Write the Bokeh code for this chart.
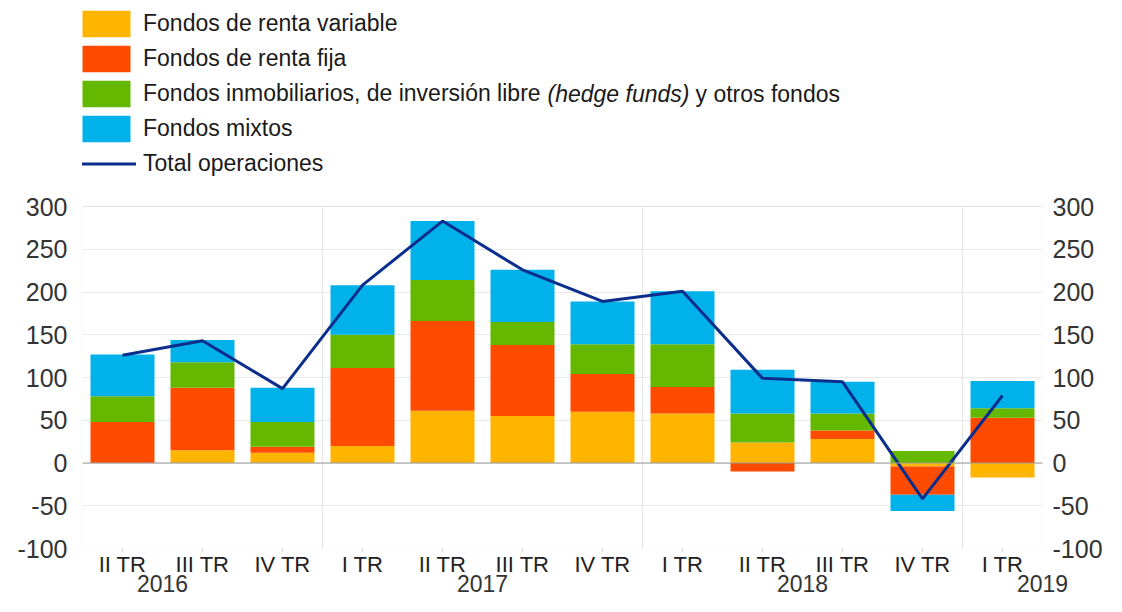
import numpy as np
from bokeh.plotting import figure
from bokeh.models import (ColumnDataSource, Range1d, LinearAxis, FixedTicker,
                          Legend, LegendItem, Label, Span, BoxAnnotation)
from bokeh.embed import file_html
from bokeh.resources import INLINE

# ---------------- data ----------------
quarters = ["II TR", "III TR", "IV TR", "I TR", "II TR", "III TR", "IV TR",
            "I TR", "II TR", "III TR", "IV TR", "I TR"]
years = ["2016", "2017", "2018", "2019"]
y_ticks = [-100, -50, 0, 50, 100, 150, 200, 250, 300]

renta_variable = [0, 15, 12, 20, 61, 55, 60, 58, 24, 28, -4, -17]
renta_fija = [48, 73, 7, 91, 105, 83, 44, 31, -10, 10, -33, 53]
otros_fondos = [30, 30, 29, 39, 48, 27, 35, 50, 34, 20, 14, 11]
fondos_mixtos = [49, 26, 40, 58, 69, 61, 50, 62, 51, 37, -19, 32]
total_operaciones = [126, 143, 87, 208, 283, 226, 189, 201, 99, 95, -42, 79]

series_names = ["Fondos de renta variable", "Fondos de renta fija",
                "Fondos inmobiliarios, de inversión libre", "Fondos mixtos"]
series_values = [renta_variable, renta_fija, otros_fondos, fondos_mixtos]
colors = ["#FFB400", "#FF4B00", "#65B800", "#00B1EA"]
line_color = "#0B2D8C"

FONT = "Liberation Sans"

n = len(quarters)
xc = np.arange(n) + 0.5
i_starts = [i for i, q in enumerate(quarters) if q == "I TR"]
boundaries = [float(i) for i in i_starts]
year_first = [-1] + i_starts
year_ticks = [min(int(s + 2), n) for s in year_first]
ymin, ymax = y_ticks[0], y_ticks[-1]
y_labels = {int(t): str(t) for t in y_ticks}   # plain hyphen for negatives

# ---------------- figure ----------------
# the frame is extended upward to host the legend
p = figure(width=1106, height=596, x_range=Range1d(0, n), y_range=Range1d(ymin, 541),
           output_backend="svg", toolbar_location=None,
           min_border_left=82, min_border_right=64, min_border_top=0,
           min_border_bottom=48)
p.background_fill_color = "white"
p.border_fill_color = "white"
p.outline_line_color = None

# grids
p.xgrid.visible = False
p.ygrid.ticker = FixedTicker(ticks=y_ticks)
p.ygrid.grid_line_color = "#e9e9e9"
p.segment(x0=boundaries, x1=boundaries, y0=[ymin] * len(boundaries),
          y1=[ymax] * len(boundaries), line_color="#e6e6e6", line_width=1)

# stacked bars (positive up from 0, negative down from 0)
pos_base = np.zeros(n)
neg_base = np.zeros(n)
renderers = []
for name, vals, col in zip(series_names, series_values, colors):
    v = np.array(vals, dtype=float)
    bottom = np.where(v >= 0, pos_base, neg_base)
    top = bottom + v
    pos_base = np.where(v >= 0, top, pos_base)
    neg_base = np.where(v < 0, top, neg_base)
    src = ColumnDataSource(dict(x=xc, bottom=bottom, top=top))
    r = p.vbar(x="x", bottom="bottom", top="top", width=0.8, source=src,
               fill_color=col, line_color=None)
    renderers.append(r)

p.add_layout(BoxAnnotation(left=0, right=n, bottom=ymin, top=ymax, fill_alpha=0,
                           line_color="#dcdcdc", line_width=1))
p.add_layout(Span(location=0, dimension="width", line_color="#9a9a9a", line_width=1))

lr = p.line(xc, total_operaciones, line_color=line_color, line_width=3)

# y axes
def style_y(ax, standoff):
    ax.ticker = FixedTicker(ticks=y_ticks)
    ax.major_label_overrides = y_labels
    ax.axis_line_color = None
    ax.major_tick_line_color = None
    ax.major_tick_out = 0
    ax.major_tick_in = 0
    ax.minor_tick_line_color = None
    ax.minor_tick_out = 0
    ax.major_label_text_font = FONT
    ax.major_label_text_font_size = "25px"
    ax.major_label_text_color = "#333333"
    ax.major_label_standoff = standoff

style_y(p.yaxis[0], 15)
yr = LinearAxis()
style_y(yr, 10)
p.add_layout(yr, "right")

# x axes: quarters and years
xa = p.xaxis[0]
xa.ticker = FixedTicker(ticks=list(xc))
xa.major_label_overrides = {float(x): q for x, q in zip(xc, quarters)}
xa.axis_line_color = None
xa.major_tick_in = 0
xa.major_tick_out = 3
xa.major_tick_line_color = "#cccccc"
xa.minor_tick_line_color = None
xa.major_label_standoff = 0
xa.major_label_text_font = FONT
xa.major_label_text_font_size = "22px"
xa.major_label_text_color = "#222222"

ya = LinearAxis(ticker=FixedTicker(ticks=year_ticks),
                major_label_overrides={int(t): y for t, y in zip(year_ticks, years)})
ya.axis_line_color = None
ya.major_tick_line_color = None
ya.major_tick_out = 0
ya.minor_tick_line_color = None
ya.major_label_standoff = -5
ya.major_label_text_font = FONT
ya.major_label_text_font_size = "23px"
ya.major_label_text_color = "#333333"
p.add_layout(ya, "below")

# legend
items = [LegendItem(label=nm, renderers=[r]) for nm, r in zip(series_names, renderers)]
items.append(LegendItem(label="Total operaciones", renderers=[lr]))
legend = Legend(items=items, location=(-6, 368), orientation="vertical",
                padding=0, margin=0, spacing=2, glyph_width=60, glyph_height=33,
                label_standoff=7, label_text_font=FONT, label_text_font_size="23px",
                label_text_color="#1a1a1a", background_fill_alpha=0,
                border_line_color=None)
p.add_layout(legend, "center")

row3_y = 368 + 173 - 16.5 - 2 * 35
lab1 = Label(x=465, y=row3_y, x_units="screen", y_units="screen", text="(hedge funds)",
             text_font=FONT, text_font_size="23px", text_font_style="italic",
             text_color="#1a1a1a", text_baseline="middle")
lab2 = Label(x=613, y=row3_y, x_units="screen", y_units="screen", text="y otros fondos",
             text_font=FONT, text_font_size="23px", text_color="#1a1a1a",
             text_baseline="middle")
p.add_layout(lab1)
p.add_layout(lab2)

open("out.html", "w").write(file_html(p, INLINE))
